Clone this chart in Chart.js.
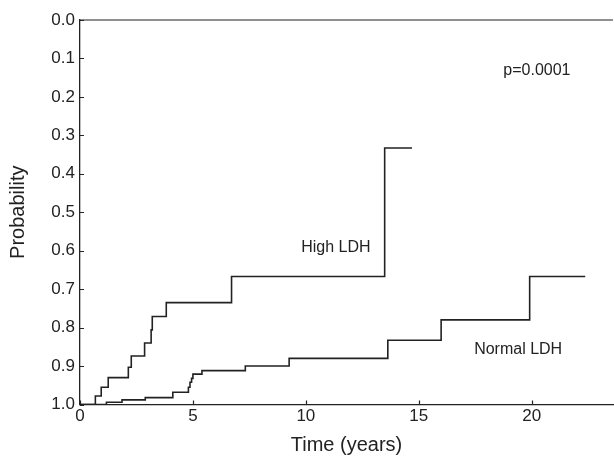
<!DOCTYPE html>
<html>
<head>
<meta charset="utf-8">
<script src="https://cdn.jsdelivr.net/npm/chart.js@4/dist/chart.umd.min.js"></script>
<style>
  html, body { margin: 0; padding: 0; background: #fff; }
  #wrap { width: 614px; height: 461px; }
</style>
</head>
<body>
<div id="wrap"><canvas id="km"></canvas></div>
<script>
// Kaplan-Meier style curves
const highTimes   = [0, 0.68, 0.94, 1.25, 2.14, 2.27, 2.86, 3.15, 3.20, 3.82, 6.71, 13.49, 14.70];
const highProb    = [1.0, 0.978, 0.955, 0.930, 0.903, 0.874, 0.840, 0.806, 0.771, 0.735, 0.667, 0.333, 0.333];
const normalTimes = [0, 1.17, 1.86, 2.89, 4.11, 4.80, 4.87, 4.94, 5.00, 5.40, 7.32, 9.26, 13.63, 15.99, 19.91, 22.37];
const normalProb  = [1.0, 0.994, 0.988, 0.982, 0.968, 0.955, 0.942, 0.932, 0.921, 0.912, 0.900, 0.880, 0.833, 0.780, 0.667, 0.667];

const xTicks = [0, 5, 10, 15, 20];
const yTicks = [0, 0.1, 0.2, 0.3, 0.4, 0.5, 0.6, 0.7, 0.8, 0.9, 1.0];

// text notes in data coordinates
const notes = [
  { text: 'High LDH',   t: 11.33, p: 0.593 },
  { text: 'Normal LDH', t: 19.40, p: 0.856 },
  { text: 'p=0.0001',   t: 20.23, p: 0.132 }
];

const INK = '#222';
const FONT = '"Liberation Sans", Arial, sans-serif';

const toPoints = (ts, ps) => ts.map((t, i) => ({ x: t, y: ps[i] }));

const innerTicks = {
  id: 'innerTicks',
  afterDatasetsDraw(chart) {
    const { ctx, chartArea: a, scales: { x, y } } = chart;
    ctx.save();
    ctx.strokeStyle = INK;
    ctx.lineWidth = 1.2;
    ctx.beginPath();
    const top = y.getPixelForValue(0);
    ctx.moveTo(a.left, top);
    ctx.lineTo(a.right, top);
    xTicks.forEach(v => {
      const px = Math.round(x.getPixelForValue(v)) + 0.5;
      ctx.moveTo(px, a.bottom);
      ctx.lineTo(px, a.bottom - 4);
    });
    yTicks.forEach(v => {
      const py = Math.round(y.getPixelForValue(v)) + 0.5;
      ctx.moveTo(a.left, py);
      ctx.lineTo(a.left + 4, py);
    });
    ctx.stroke();

    ctx.fillStyle = INK;
    ctx.font = '16px ' + FONT;
    ctx.textAlign = 'center';
    ctx.textBaseline = 'middle';
    notes.forEach(n => ctx.fillText(n.text, x.getPixelForValue(n.t), y.getPixelForValue(n.p)));
    ctx.restore();
  }
};

new Chart(document.getElementById('km'), {
  type: 'line',
  data: {
    datasets: [
      {
        label: 'High LDH',
        data: toPoints(highTimes, highProb),
        borderColor: INK,
        borderWidth: 1.6,
        stepped: true,
        pointRadius: 0,
        fill: false
      },
      {
        label: 'Normal LDH',
        data: toPoints(normalTimes, normalProb),
        borderColor: INK,
        borderWidth: 1.6,
        stepped: true,
        pointRadius: 0,
        fill: false
      }
    ]
  },
  options: {
    responsive: true,
    maintainAspectRatio: false,
    animation: false,
    layout: { padding: { top: 20, right: 1, left: 0, bottom: 0 } },
    plugins: {
      legend: { display: false },
      tooltip: { enabled: false }
    },
    scales: {
      x: {
        type: 'linear',
        min: 0,
        max: 23.6,
        afterFit: s => { s.height = 56.5; },
        afterBuildTicks: s => { s.ticks = xTicks.map(v => ({ value: v })); },
        grid: { drawOnChartArea: false, drawTicks: false },
        border: { color: INK, width: 1.3 },
        ticks: { color: INK, font: { size: 17, family: FONT }, padding: 2 },
        title: {
          display: true,
          text: 'Time (years)',
          color: INK,
          font: { size: 20, family: FONT },
          padding: { top: 0, bottom: 4 }
        }
      },
      y: {
        reverse: true,
        min: 0,
        max: 1,
        afterFit: s => { s.width = 80; },
        afterBuildTicks: s => { s.ticks = yTicks.map(v => ({ value: v })); },
        grid: { drawOnChartArea: false, drawTicks: false },
        border: { color: INK, width: 1.3 },
        ticks: {
          color: INK,
          font: { size: 17, family: FONT },
          padding: 5,
          callback: v => Number(v).toFixed(1)
        },
        title: {
          display: true,
          text: 'Probability',
          color: INK,
          font: { size: 20, family: FONT },
          padding: { top: 6, bottom: 0 }
        }
      }
    }
  },
  plugins: [innerTicks]
});
</script>
</body>
</html>
